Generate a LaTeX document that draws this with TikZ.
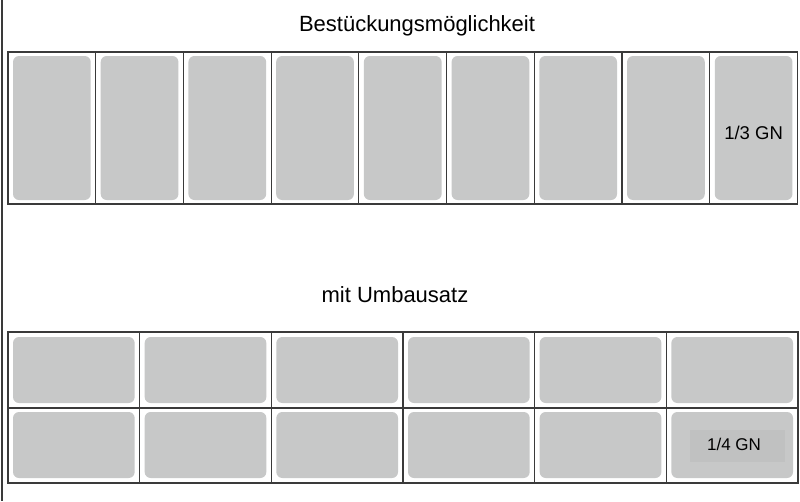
\documentclass[tikz,border=0pt]{standalone}
\usepackage{fontspec}
\setmainfont{Liberation Sans}
\definecolor{tray}{HTML}{C7C8C8}
\definecolor{traylbl}{HTML}{C0C1C1}
\definecolor{rule}{HTML}{3A3A3A}
\begin{document}
\begin{tikzpicture}[x=1pt,y=-1pt,
  traybox/.style={fill=tray,draw=none,rounded corners=6pt},
  frame/.style={draw=rule,line width=1.2pt},
  title/.style={anchor=base,font=\fontsize{22}{26}\selectfont,inner sep=0pt},
  gnlabel/.style={anchor=base,inner sep=0pt}]
\useasboundingbox (0,0) rectangle (800,501);
\fill[white] (0,0) rectangle (800,501);
% left rule
\draw[draw=rule,line width=1.5pt] (2,0) -- (2,501);
% titles
\node[title] (t1) at (417,31) {Bestückungsmöglichkeit};
\node[title] (t2) at (395,302) {mit Umbausatz};
% top row: 9 trays
\foreach \i in {0,...,8}{
  \pgfmathsetmacro{\xa}{8+\i*87.72}
  \pgfmathsetmacro{\xb}{8+(\i+1)*87.72}
  \fill[traybox] (\xa+5,56) rectangle (\xb-5,200);
}
\draw[frame] (8,52) rectangle (797.5,204);
\foreach \i in {1,...,8}{
  \pgfmathsetmacro{\xa}{8+\i*87.72}
  \draw[frame] (\xa,52) -- (\xa,204);
}
\node[gnlabel,font=\fontsize{18.5}{22}\selectfont] (l1) at (753.6,139) {1/3 GN};
% bottom: 2 rows x 6 trays
\foreach \i in {0,...,5}{
  \pgfmathsetmacro{\xa}{8+\i*131.67}
  \pgfmathsetmacro{\xb}{8+(\i+1)*131.67}
  \fill[traybox] (\xa+5,337) rectangle (\xb-5,403);
  \fill[traybox] (\xa+5,412) rectangle (\xb-5,478);
}
\fill[traylbl] (690,430) rectangle (785,462);
\node[gnlabel,font=\fontsize{17}{20}\selectfont] (l2) at (734,450) {1/4 GN};
\draw[frame] (8,332) rectangle (798,483);
\draw[frame] (8,408) -- (798,408);
\foreach \i in {1,...,5}{
  \pgfmathsetmacro{\xa}{8+\i*131.67}
  \draw[frame] (\xa,332) -- (\xa,483);
}
\end{tikzpicture}
\end{document}
